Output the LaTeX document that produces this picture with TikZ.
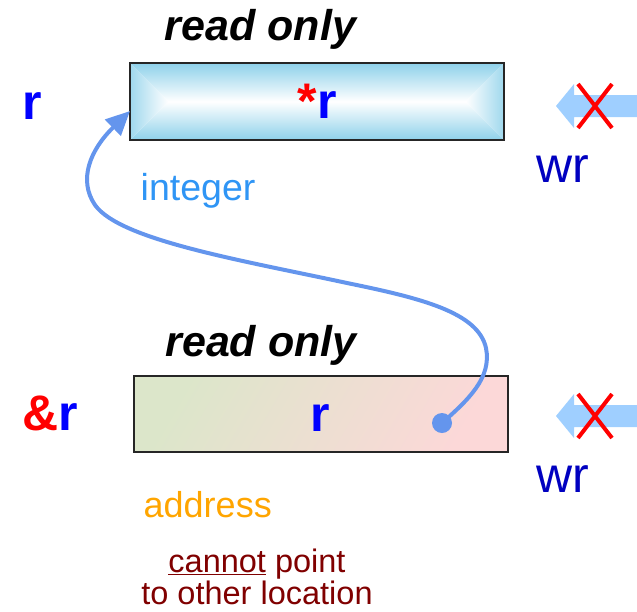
\documentclass[tikz,border=0pt]{standalone}
\usepackage{fontspec}
\setmainfont{Liberation Sans}
\usetikzlibrary{arrows.meta}
\definecolor{cblue}{HTML}{6495ED}
\definecolor{skyb}{HTML}{8ED1EA}
\definecolor{lblue}{HTML}{9FCFFF}
\definecolor{wrblue}{HTML}{0000C0}
\definecolor{intblue}{HTML}{2F95F5}
\definecolor{addr}{HTML}{FFA500}
\definecolor{mylmaroon}{HTML}{800000}
\definecolor{boxgreen}{HTML}{DCE6CA}
\definecolor{boxpink}{HTML}{FCD8D8}
\tikzset{
  ro/.style={anchor=base, inner sep=0pt, font=\fontsize{43}{48}\selectfont\bfseries\itshape},
  var/.style={anchor=base, inner sep=0pt, font=\fontsize{50}{56}\selectfont\bfseries, text=blue},
  wrtext/.style={anchor=base, inner sep=0pt, font=\fontsize{50}{56}\selectfont, text=wrblue},
  box/.style={draw=black!85, line width=1.1pt, inner sep=0pt},
  blockarrow/.style={fill=lblue, draw=none},
  cross/.style={draw=red, line width=4pt},
  ptr/.style={draw=cblue, line width=4pt, -{Triangle[length=24pt,width=22pt]}},
}
\begin{document}
\begin{tikzpicture}[x=1pt,y=-1pt]
\useasboundingbox (0,0) rectangle (637,611);
% ---- top box (bevel shading) ----
\shade[top color=skyb, bottom color=white] (130,63) -- (504,63) -- (465.5,101.5) -- (168.5,101.5) -- cycle;
\shade[top color=white, bottom color=skyb] (168.5,101.5) -- (465.5,101.5) -- (504,140) -- (130,140) -- cycle;
\shade[left color=skyb!85, right color=white] (130,63) -- (168.5,101.5) -- (130,140) -- cycle;
\shade[left color=white, right color=skyb!85] (504,63) -- (465.5,101.5) -- (504,140) -- cycle;
\node[box, minimum width=374pt, minimum height=77pt] (top) at (317,101.5) {};
\node[var] (starr) at (317,118) {\textcolor{red}{*}r};
\node[ro] (ro1) at (260.5,40) {read only};
\node[var, anchor=base west] (lr) at (22,119) {r};
\node[anchor=base west, inner sep=0pt, font=\fontsize{37.5}{40}\selectfont, text=intblue] (int) at (140.5,200) {integer};
% ---- bottom box ----
\shade[left color=boxgreen, right color=boxpink, shading angle=60] (134,376) rectangle (508,452);
\node[box, minimum width=374pt, minimum height=76pt] (bot) at (321,414) {};
\node[var] (rr) at (320.5,431) {r};
\node[ro] (ro2) at (261,356) {read only};
\node[var, anchor=base west] (amp) at (22.5,430) {\textcolor{red}{\&}r};
\node[anchor=base west, inner sep=0pt, font=\fontsize{36}{40}\selectfont, text=addr] (addr) at (143.5,517) {address};
\node[anchor=base, inner sep=0pt, align=center, font=\fontsize{32.5}{32}\selectfont, text=mylmaroon] (note) at (257,604) {\underline{cannot} point\\to other location};
% ---- pointer ----
\node[circle, fill=cblue, minimum size=20pt, inner sep=0pt] (dot) at (442,423) {};
\coordinate (tipc) at (130,111);
\draw[ptr] (dot.center) .. controls (468,400) and (492,378) .. (486,348)
  .. controls (478,312) and (420,298) .. (347,283)
  .. controls (240,260) and (120,240) .. (95,205)
  .. controls (78,180) and (90,150) .. (tipc);
% ---- blocked write arrows ----
\fill[blockarrow] (556,106) -- (574,84) -- (574,95) -- (637,95) -- (637,117) -- (574,117) -- (574,128) -- cycle;
\draw[cross] (578,84) -- (612,128) (612,84) -- (578,128);
\node[wrtext] (wr1) at (563,182) {wr};
\fill[blockarrow] (556,416) -- (574,394) -- (574,405) -- (637,405) -- (637,427) -- (574,427) -- (574,438) -- cycle;
\draw[cross] (578,394) -- (612,438) (612,394) -- (578,438);
\node[wrtext] (wr2) at (563,492) {wr};
\end{tikzpicture}
\end{document}
